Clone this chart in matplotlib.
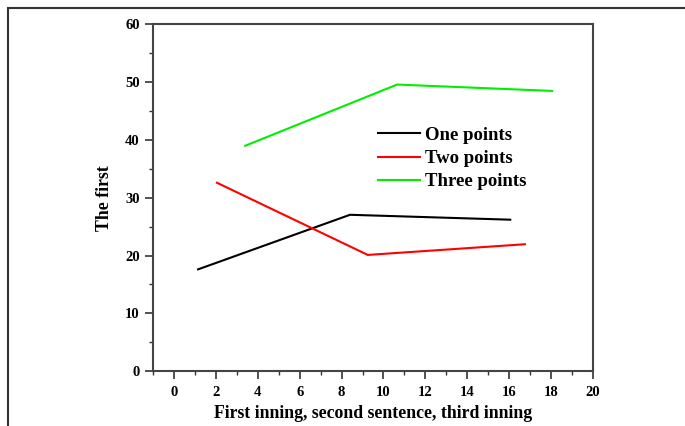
import matplotlib
matplotlib.use("Agg")
import matplotlib.pyplot as plt
from matplotlib.patches import Rectangle
from matplotlib.ticker import MultipleLocator

# Values
one_x = [1.15, 8.4, 16.05]
one_y = [17.6, 27.05, 26.2]
two_x = [2.05, 9.25, 16.75]
two_y = [32.6, 20.1, 21.95]
three_x = [3.4, 10.65, 18.05]
three_y = [39.0, 49.6, 48.5]
series_labels = ["One points", "Two points", "Three points"]

plt.rcParams["font.family"] = ["Liberation Serif", "DejaVu Serif"]
plt.rcParams["font.weight"] = "bold"

fig = plt.figure(figsize=(6.85, 4.26), dpi=100)
ax = fig.add_axes([0.2234, 0.1291, 0.6423, 0.8134])

ax.plot(one_x, one_y, color="black", lw=1.5, label=series_labels[0])
ax.plot(two_x, two_y, color="#ff0000", lw=1.5, label=series_labels[1])
ax.plot(three_x, three_y, color="#00ee00", lw=1.5, label=series_labels[2])

ax.set_xlim(-1, 20)
ax.set_ylim(0, 60)
ax.xaxis.set_major_locator(MultipleLocator(2))
ax.xaxis.set_minor_locator(MultipleLocator(1))
ax.yaxis.set_major_locator(MultipleLocator(10))
ax.yaxis.set_minor_locator(MultipleLocator(5))
ax.tick_params(which="major", direction="out", length=6, width=1.2, labelsize=10.5,
               colors="#333333", labelcolor="black")
ax.tick_params(axis="x", which="major", pad=5)
ax.tick_params(axis="y", which="major", pad=3.5)
ax.tick_params(which="minor", direction="out", length=3, width=1.0, colors="#333333")
for lab in ax.get_xticklabels() + ax.get_yticklabels():
    lab.set_fontweight("bold")
for sp in ax.spines.values():
    sp.set_linewidth(1.5)
    sp.set_color("#444444")

ax.set_xlabel("First inning, second sentence, third inning", fontsize=12.8, fontweight="bold", labelpad=4)
ax.set_ylabel("The first", fontsize=12.8, fontweight="bold", labelpad=9)

ax.legend(loc="upper left", bbox_to_anchor=(0.502, 0.716), frameon=False,
          handlelength=2.25, handletextpad=0.3, labelspacing=0.33,
          borderpad=0.2, borderaxespad=0.0,
          prop={"family": "Liberation Serif", "weight": "bold", "size": 13.5})

# outer frame of the figure
fig.patches.append(Rectangle((8 / 685, -0.1), 1.2, 1 - 7.5 / 426 + 0.1,
                             transform=fig.transFigure, fill=False,
                             edgecolor="#333333", lw=1.5))

fig.savefig("out.png", dpi=100)
